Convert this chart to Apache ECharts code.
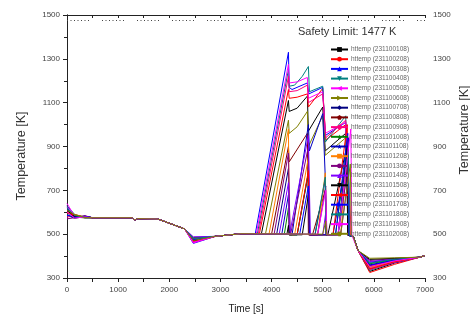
<!DOCTYPE html>
<html>
<head>
<meta charset="utf-8">
<script src="https://cdn.jsdelivr.net/npm/echarts@6/dist/echarts.min.js"></script>
<style>
html,body{margin:0;padding:0;background:#fff}
#chart{width:470px;height:320px}
</style>
</head>
<body>
<div id="chart"></div>
<script>
// run ids shown in the legend
const runIds = ['231100108','231100208','231100308','231100408','231100508','231100608','231100708','231100808','231100908','231101008',
  '231101108','231101208','231101308','231101408','231101508','231101608','231101708','231101808','231101908','231102008'];

// start-up transient, per run
const tempAt0   = [600,612,585,630,640,620,595,605,578,590,615,600,570,625,608,596,588,618,602,610];
const tempAt150 = [580,586,574,590,582,578,588,576,584,572,579,590,575,583,581,587,577,585,573,589];
const tempAt350 = [578,575,582,576,580,574,579,583,577,581,575,578,584,576,580,577,582,575,579,576];

// common steady part
const steadyTime = [500,1280,1320,1380,1780,2300];
const steadyTemp = [575,575,564,571,569,524];

// first dip around 2470 s, per run
const dipMin = [468,462,458,472,460,476,480,470,465,485,474,478,482,488,470,466,475,480,463,471];
const recoverTime = [2900,3400];
const recoverTemp = [490,502];

// heat-up phase, per run [time, temp]
const heat01 = [[3800,500],[4330,1110],[4345,1060],[4500,1075],[4700,1130],[4720,970],[5000,1080],[5050,880],[5450,960],[5510,495]];
const heat02 = [[3760,500],[4330,1160],[4345,1120],[4500,1125],[4700,1140],[4720,1080],[5000,1165],[5060,930],[5450,1000],[5540,495]];
const heat03 = [[3680,500],[4330,1330],[4345,1170],[4400,1160],[4700,1190],[4730,1140],[5000,1170],[5050,950],[5450,1010],[5500,495]];
const heat04 = [[3720,500],[4330,1250],[4345,1175],[4450,1180],[4600,1220],[4720,1265],[4740,1150],[5000,1175],[5050,920],[5450,1040],[5510,495]];
const heat05 = [[3700,500],[4330,1275],[4345,1190],[4500,1195],[4700,1215],[4720,1120],[5000,1150],[5050,960],[5450,1010],[5520,495]];
const heat06 = [[3880,500],[4330,1020],[4345,960],[4500,990],[4700,1060],[4720,900],[5000,1040],[5050,860],[5450,940],[5530,495]];
const heat07 = [[4100,500],[4330,800],[4350,497],[4500,497],[4720,780],[4740,497],[4850,497],[5050,750],[5070,497],[5200,497],[5470,850],[5490,495]];
const heat08 = [[4000,500],[4330,900],[4345,830],[4700,960],[4720,497],[4800,497],[5050,700],[5070,497],[5300,497],[5480,900],[5500,495]];
const heat09 = [[3740,500],[4330,1220],[4345,1150],[4500,1155],[4700,1180],[4720,1100],[5000,1140],[5060,940],[5450,1020],[5560,495]];
const heat10 = [[4250,500],[4330,620],[4345,497],[4500,497],[4720,780],[4740,497],[5250,497],[5480,900],[5500,495]];
const heat11 = [[4200,500],[4330,680],[4345,497],[4400,497],[4720,1000],[4740,880],[5000,1050],[5050,760],[5060,497],[5300,497],[5500,940],[5520,495]];
const heat12 = [[3950,500],[4330,980],[4345,497],[4450,497],[4720,850],[4740,497],[4900,497],[5050,780],[5070,497],[5350,497],[5490,870],[5510,495]];
const heat13 = [[4050,500],[4330,870],[4350,620],[4370,497],[4400,497],[4720,900],[4740,497],[4900,497],[5060,720],[5080,497],[5300,497],[5480,780],[5500,495]];
const heat14 = [[4150,500],[4330,735],[4350,497],[4380,497],[4720,950],[4740,700],[4760,497],[5000,497],[5060,600],[5080,497],[5350,497],[5500,760],[5520,495]];
const heat15 = [[4300,500],[4330,540],[4345,497],[4600,497],[4720,680],[4740,497],[5100,497],[5470,900],[5490,495]];
const heat16 = [[4500,500],[4720,790],[4740,497],[5200,497],[5480,1000],[5510,495]];
const heat17 = [[4550,500],[4720,720],[4740,497],[5250,497],[5490,960],[5510,495]];
const heat18 = [[4850,500],[5050,760],[5070,497],[5300,497],[5500,880],[5520,495]];
const heat19 = [[4900,500],[5060,700],[5080,497],[5300,497],[5550,980],[5570,495]];
const heat20 = [[5000,500],[5060,560],[5080,497],[5350,497],[5540,820],[5560,495]];
const heatPhase = [heat01,heat02,heat03,heat04,heat05,heat06,heat07,heat08,heat09,heat10,
  heat11,heat12,heat13,heat14,heat15,heat16,heat17,heat18,heat19,heat20];

// cool-down after ~5550 s
const quenchTime = [5600,5690];
const quenchTemp = [488,425];
const coolMin  = [330,325,340,335,345,350,360,355,338,365,372,348,380,375,385,342,358,368,352,390];
const cool6400 = [368,362,370,372,375,378,382,380,371,384,386,377,388,386,390,374,381,385,378,392];
const tailTime = [6900,7000];
const tailTemp = [395,402];

const safetyLimit = 1477;

const colors = ['#000000','#ff0000','#0000ff','#008080','#ff00ff','#808000','#000080','#800000','#ff0080','#008000',
  '#0000c0','#ff8000','#800080','#8000ff','#000000','#ff0000','#0000ff','#008080','#ff00ff','#808000'];

const pentagon = 'path://M0,-10L9.5,-3.1L5.9,8.1L-5.9,8.1L-9.5,-3.1Z';
const hexagon = 'path://M-10,0L-5,-8.7L5,-8.7L10,0L5,8.7L-5,8.7Z';
const star = 'path://M0,-10L2.4,-3.2L9.5,-3.1L3.8,1.2L5.9,8.1L0,4L-5.9,8.1L-3.8,1.2L-9.5,-3.1L-2.4,-3.2Z';
const symbols = [['rect',0],['circle',0],['triangle',0],['triangle',180],['triangle',90],['triangle',-90],['diamond',0],[pentagon,0],[hexagon,0],[star,0],
  [star,0],['rect',0],['circle',0],['triangle',0],['triangle',180],['triangle',90],['triangle',-90],['diamond',0],[pentagon,0],[hexagon,0]];

function buildRun(i) {
  let pts = [[0,tempAt0[i]],[150,tempAt150[i]],[350,tempAt350[i]]];
  steadyTime.forEach((t,k) => pts.push([t,steadyTemp[k]]));
  pts.push([2470,dipMin[i]]);
  recoverTime.forEach((t,k) => pts.push([t,recoverTemp[k]]));
  pts = pts.concat(heatPhase[i]);
  quenchTime.forEach((t,k) => pts.push([t,quenchTemp[k]]));
  pts.push([5920,coolMin[i]]);
  pts.push([6400,cool6400[i]]);
  tailTime.forEach((t,k) => pts.push([t,tailTemp[k]]));
  return pts;
}

const font = 'Liberation Sans, Arial, sans-serif';
const plain = v => String(v);

let series = runIds.map((id,i) => ({
  name: 'httemp (' + id + ')',
  type: 'line',
  data: buildRun(i),
  showSymbol: false,
  symbol: symbols[i][0],
  symbolRotate: symbols[i][1],
  lineStyle: {width: 1, color: colors[i]},
  itemStyle: {color: colors[i]},
  animation: false,
  z: 2
}));
series[0].markLine = {
  silent: true,
  symbol: 'none',
  label: {show: false},
  lineStyle: {color: '#444', width: 1, type: [1,2.5,1,2.5,1,2.5,1,2.5,1,2.5,1,2.5,1,13]},
  data: [{yAxis: safetyLimit}]
};

let yAxisBase = {
  type: 'value', min: 300, max: 1500, interval: 200,
  splitLine: {show: false},
  axisLine: {show: true, lineStyle: {color: '#222', width: 1}},
  minorTick: {show: true, splitNumber: 2, length: 3, lineStyle: {color: '#222'}}
};

let option = {
  animation: false,
  backgroundColor: '#fff',
  textStyle: {fontFamily: font},
  grid: {left: 67, right: 45, top: 15, bottom: 42},
  legend: {
    orient: 'vertical',
    left: 330, top: 46,
    padding: 0,
    itemWidth: 17, itemHeight: 6, itemGap: 2.7,
    textStyle: {fontSize: 6.5, color: '#666', fontFamily: font, padding: [0,0,0,-2]},
    data: runIds.map(id => 'httemp (' + id + ')')
  },
  xAxis: [{
    type: 'value', min: 0, max: 7000, interval: 1000,
    name: 'Time [s]', nameLocation: 'middle', nameGap: 26,
    nameTextStyle: {fontSize: 10, color: '#222'},
    splitLine: {show: false},
    axisLine: {onZero: false, lineStyle: {color: '#222'}},
    axisTick: {length: 4, lineStyle: {color: '#222'}},
    minorTick: {show: true, splitNumber: 2, length: 4, lineStyle: {color: '#222'}},
    axisLabel: {fontSize: 8, color: '#444', margin: 8, formatter: plain}
  }, {
    type: 'value', min: 0, max: 7000, interval: 1000, position: 'top',
    splitLine: {show: false},
    axisLine: {onZero: false, lineStyle: {color: '#222'}},
    axisTick: {inside: true, length: 3, lineStyle: {color: '#222'}},
    minorTick: {show: true, splitNumber: 2, length: 3, lineStyle: {color: '#222'}},
    axisLabel: {show: false}
  }],
  yAxis: [Object.assign({}, yAxisBase, {
    position: 'left',
    axisTick: {length: 4, lineStyle: {color: '#222'}},
    axisLabel: {fontSize: 8, color: '#444', margin: 7, formatter: plain}
  }), Object.assign({}, yAxisBase, {
    position: 'right',
    axisTick: {inside: true, length: 4, lineStyle: {color: '#222'}},
    minorTick: {show: true, inside: true, splitNumber: 2, length: 3, lineStyle: {color: '#222'}},
    axisLabel: {fontSize: 8, color: '#444', margin: 8, formatter: plain}
  })],
  graphic: [{
    type: 'text', left: 298, top: 26,
    style: {text: 'Safety Limit: 1477 K', font: '11px ' + font, fill: '#333'}
  }, {
    type: 'text', x: 22, y: 156, rotation: Math.PI / 2,
    style: {text: 'Temperature [K]', font: '12.5px ' + font, fill: '#333', align: 'center', verticalAlign: 'middle'}
  }, {
    type: 'text', x: 465, y: 130, rotation: Math.PI / 2,
    style: {text: 'Temperature [K]', font: '12.5px ' + font, fill: '#333', align: 'center', verticalAlign: 'middle'}
  }],
  series: series
};

let chart = echarts.init(document.getElementById('chart'), null, {renderer: 'canvas'});
chart.setOption(option);
</script>
</body>
</html>
